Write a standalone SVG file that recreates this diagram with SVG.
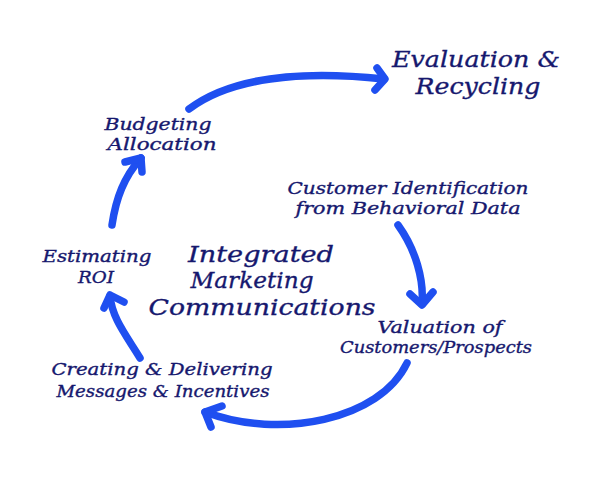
<svg xmlns="http://www.w3.org/2000/svg" width="600" height="502" viewBox="0 0 600 502">
<style>
.t{font-family:"DejaVu Serif","Liberation Serif",serif;font-style:italic;fill:#16186e;stroke:#16186e;stroke-width:0.35;text-anchor:middle}
.s{font-size:16.5px}
.m{font-size:23px}
.l{font-size:23px}
.a{fill:none;stroke:#1f4ff0;stroke-width:7.5;stroke-linecap:round;stroke-linejoin:round}
</style>
<rect width="600" height="502" fill="#ffffff"/>
<g id="connectors">
<path class="a" d="M189,109 C230,78 300,70 384,79"/>
<polyline class="a" points="377,68 385,79 375,90"/>
<path class="a" d="M112,225 C116,198 124,177 141,158"/>
<polyline class="a" points="125,162 141,158 142,172"/>
<path class="a" d="M398,225 C416,250 424,280 422,304"/>
<polyline class="a" points="410,294 422,305 433,292"/>
<path class="a" d="M407,363 C380,420 280,440 205,412"/>
<polyline class="a" points="222,406 205,412 211,427"/>
<path class="a" d="M140,358 C126,335 112,318 110,296"/>
<polyline class="a" points="104,308 110,295 124,302"/>
</g>
<g id="center"><text class="t l" x="261" y="262" textLength="146" lengthAdjust="spacingAndGlyphs">Integrated</text><text class="t l" x="252" y="288" textLength="123" lengthAdjust="spacingAndGlyphs">Marketing</text><text class="t l" x="262" y="315" textLength="227" lengthAdjust="spacingAndGlyphs">Communications</text></g>
<g id="evaluation"><text class="t m" x="476" y="67" textLength="168" lengthAdjust="spacingAndGlyphs">Evaluation &amp;</text><text class="t m" x="478" y="94" textLength="125" lengthAdjust="spacingAndGlyphs">Recycling</text></g>
<g id="budgeting"><text class="t s" x="158" y="130" textLength="107" lengthAdjust="spacingAndGlyphs">Budgeting</text><text class="t s" x="162" y="150" textLength="109" lengthAdjust="spacingAndGlyphs">Allocation</text></g>
<g id="customer-id"><text class="t s" x="408" y="194" textLength="241" lengthAdjust="spacingAndGlyphs">Customer Identification</text><text class="t s" x="408" y="214" textLength="225" lengthAdjust="spacingAndGlyphs">from Behavioral Data</text></g>
<g id="roi"><text class="t s" x="97" y="262" textLength="109" lengthAdjust="spacingAndGlyphs">Estimating</text><text class="t s" x="96" y="283" textLength="36" lengthAdjust="spacingAndGlyphs">ROI</text></g>
<g id="valuation"><text class="t s" x="440" y="333" textLength="125" lengthAdjust="spacingAndGlyphs">Valuation of</text><text class="t s" x="436" y="353" textLength="192" lengthAdjust="spacingAndGlyphs">Customers/Prospects</text></g>
<g id="creating"><text class="t s" x="162" y="375" textLength="221" lengthAdjust="spacingAndGlyphs">Creating &amp; Delivering</text><text class="t s" x="163" y="397" textLength="213" lengthAdjust="spacingAndGlyphs">Messages &amp; Incentives</text></g>
</svg>
